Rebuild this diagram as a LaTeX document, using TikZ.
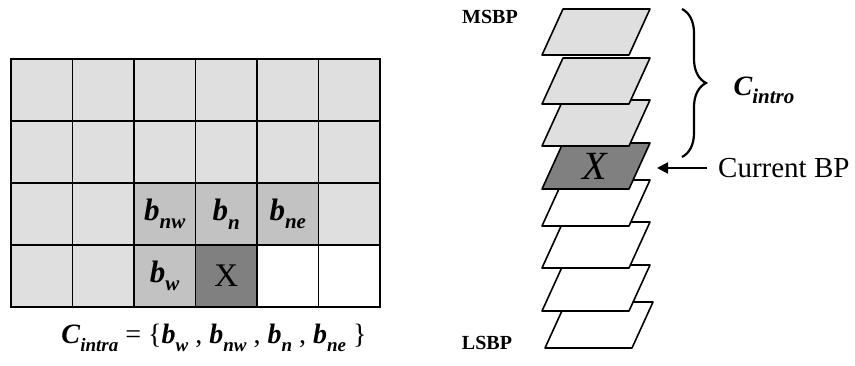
\documentclass[tikz,border=0pt]{standalone}
\usepackage{fontspec}
\setmainfont{Liberation Serif}
\usetikzlibrary{arrows.meta,decorations.pathreplacing}
\definecolor{cellgray}{HTML}{DFDFDF}
\definecolor{midgray}{HTML}{C2C2C2}
\definecolor{darkcell}{HTML}{808080}
\newcommand{\sbs}[2][20]{\raisebox{-0.28em}{\fontsize{#1}{#1}\selectfont #2}}
\tikzset{
  cell/.style={draw, line width=1.7pt, minimum width=61.5pt, minimum height=62pt, inner sep=0pt, fill=cellgray},
  plane/.style={draw, line width=1.6pt, line join=round},
  blbl/.style={font=\fontsize{31}{33}\selectfont\bfseries\itshape},
  sidelbl/.style={font=\fontsize{20}{22}\selectfont\bfseries, inner sep=0pt},
}
\begin{document}
\begin{tikzpicture}[x=1pt,y=-1pt]
\useasboundingbox (0,0) rectangle (855,366);
% grid
\foreach \c in {0,...,5}{
  \foreach \r in {0,...,3}{
    \node[cell] (g\c\r) at ({11+61.5*\c+30.75},{59+62*\r+31}) {};
  }
}
\node[cell, fill=midgray, blbl] (bnw) at (g22) {b\sbs[21]{nw}};
\node[cell, fill=midgray, blbl] (bn)  at (g32) {b\sbs[21]{n}};
\node[cell, fill=midgray, blbl] (bne) at (g42) {b\sbs[21]{ne}};
\node[cell, fill=midgray, blbl] (bw)  at (g23) {b\sbs[21]{w}};
\node[cell, fill=darkcell, font=\fontsize{33}{35}\selectfont] (cx) at (g33) {X};
\node[cell, fill=white] (e1) at (g43) {};
\node[cell, fill=white] (e2) at (g53) {};
% formula
\node[inner sep=0pt, font=\fontsize{28}{30}\selectfont] (cintra) at (214,338)
  {\textbf{\textit{C}}\sbs[19]{\textbf{\textit{intra}}} = \{\textbf{\textit{b}}\sbs[19]{\textbf{\textit{w}}} , \textbf{\textit{b}}\sbs[19]{\textbf{\textit{nw}}} , \textbf{\textit{b}}\sbs[19]{\textbf{\textit{n}}} , \textbf{\textit{b}}\sbs[19]{\textbf{\textit{ne}}} \}};
% stack of bit planes (bottom first)
\newcommand{\bitplane}[3]{\filldraw[plane, fill=#3] (#1,#2) -- ++(87,0) -- ++(21,-46) -- ++(-87,0) -- cycle;}
\bitplane{545}{348}{white}
\bitplane{542}{311}{white}
\bitplane{542}{268}{white}
\bitplane{542}{226}{white}
\bitplane{542}{189}{darkcell}
\bitplane{542}{146}{cellgray}
\bitplane{542}{104}{cellgray}
\bitplane{542}{55}{cellgray}
\node[font=\fontsize{40}{42}\selectfont\itshape, inner sep=0pt] (px) at (595,166) {X};
\node[sidelbl] (msbp) at (490,17) {MSBP};
\node[sidelbl] (lsbp) at (487,343) {LSBP};
% brace
\coordinate (btop) at (682,9);
\coordinate (bbot) at (682,157);
\draw[decorate, decoration={brace, amplitude=24pt}, line width=2.2pt] (btop) -- (bbot);
\node[inner sep=0pt, font=\fontsize{28}{30}\selectfont\bfseries\itshape] (cintro) at (764,90) {C\sbs[21]{intro}};
% current BP
\node[anchor=west, inner sep=0pt, font=\fontsize{29}{31}\selectfont] (cur) at (718,168) {Current BP};
\coordinate (curtip) at (657,168);
\draw[line width=2.2pt, -{Triangle[length=11pt,width=11pt]}] ([xshift=-11pt]cur.west) -- (curtip);
\end{tikzpicture}
\end{document}
